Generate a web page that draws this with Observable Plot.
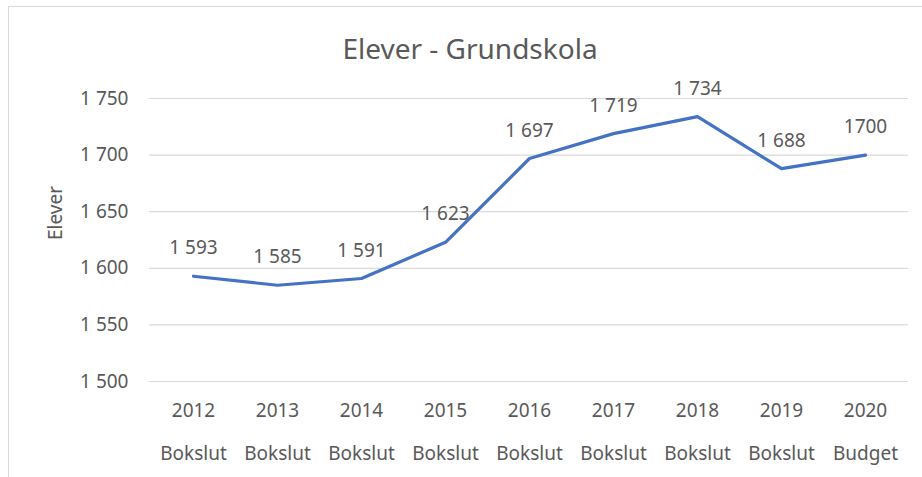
<!DOCTYPE html>
<html>
<head>
<meta charset="utf-8">
<script src="https://cdn.jsdelivr.net/npm/d3@7"></script>
<script src="https://cdn.jsdelivr.net/npm/@observablehq/plot@0.6"></script>
<style>
  html, body { margin: 0; padding: 0; background: #fff; width: 922px; height: 477px; overflow: hidden; }
  #wrap { position: relative; width: 922px; height: 477px; font-family: "Noto Sans", sans-serif; }
  #frame { position: absolute; left: 8px; top: 6px; width: 1000px; height: 1000px; border: 1.5px solid #d9d9d9; box-sizing: border-box; pointer-events: none; }
  #title { height: 40px; padding-top: 30px; line-height: 36px; font-size: 28px; color: #595959; text-align: center; padding-left: 18px; box-sizing: content-box; }
</style>
</head>
<body>
<div id="wrap">
  <div id="frame"></div>
  <div id="title">Elever - Grundskola</div>
  <div id="chart"></div>
</div>
<script>
const years = ["2012", "2013", "2014", "2015", "2016", "2017", "2018", "2019", "2020"];
const kinds = ["Bokslut", "Bokslut", "Bokslut", "Bokslut", "Bokslut", "Bokslut", "Bokslut", "Bokslut", "Budget"];
const values = [1593, 1585, 1591, 1623, 1697, 1719, 1734, 1688, 1700];
const valueLabels = ["1 593", "1 585", "1 591", "1 623", "1 697", "1 719", "1 734", "1 688", "1700"];
const yTicks = [1500, 1550, 1600, 1650, 1700, 1750];
const yTickLabels = ["1 500", "1 550", "1 600", "1 650", "1 700", "1 750"];

const data = years.map((y, i) => ({key: y + "|" + kinds[i], year: y, kind: kinds[i], value: values[i], label: valueLabels[i]}));
const keys = data.map(d => d.key);

const textColor = "#595959";
const chart = Plot.plot({
  width: 922,
  height: 407,
  marginTop: 28,
  marginBottom: 96,
  marginLeft: 149,
  marginRight: 14,
  style: {fontFamily: "Noto Sans, sans-serif", fontSize: "19px", color: textColor, background: "transparent"},
  x: {type: "band", domain: keys, padding: 0, axis: null},
  y: {domain: [1500, 1750], axis: null},
  marks: [
    Plot.gridY(yTicks, {stroke: "#d9d9d9", strokeOpacity: 1, strokeWidth: 1.2}),
    Plot.axisY({ticks: yTicks, tickSize: 0, tickPadding: 21, tickFormat: d => yTickLabels[yTicks.indexOf(d)], fill: textColor, fontSize: 19, label: null}),
    Plot.axisX({ticks: keys, tickSize: 0, tickPadding: 22, tickFormat: k => k.split("|")[0], fill: textColor, fontSize: 19, label: null}),
    Plot.axisX({ticks: keys, tickSize: 0, tickPadding: 65, tickFormat: k => k.split("|")[1], fill: textColor, fontSize: 19, label: null}),
    Plot.text(["Elever"], {frameAnchor: "left", dx: -94, rotate: -90, fill: textColor, fontSize: 19}),
    Plot.line(data, {x: "key", y: "value", stroke: "#4472C4", strokeWidth: 3.2, strokeLinejoin: "round", strokeLinecap: "round"}),
    Plot.text(data, {x: "key", y: "value", text: "label", dy: -28, fill: textColor, fontSize: 19})
  ]
});
document.getElementById("chart").appendChild(chart);
</script>
</body>
</html>
